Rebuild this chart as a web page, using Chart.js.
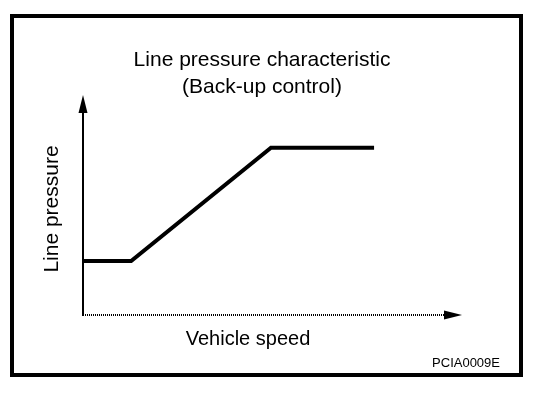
<!DOCTYPE html>
<html>
<head>
<meta charset="utf-8">
<script src="https://cdn.jsdelivr.net/npm/chart.js@4/dist/chart.umd.min.js"></script>
<style>
html,body{margin:0;padding:0;background:#fff;}
#wrap{position:relative;width:560px;height:398px;}
</style>
</head>
<body>
<div id="wrap"><canvas id="c" width="560" height="398"></canvas></div>
<script>
// Schematic data (arbitrary units)
const speed = [0, 12.7, 49.6, 76.8];
const pressure = [24.5, 24.5, 76, 76];
const titleLines = ["Line pressure characteristic", "(Back-up control)"];
const xLabel = "Vehicle speed";
const yLabel = "Line pressure";
const figCode = "PCIA0009E";

const FONT = '"Liberation Sans", Arial, Helvetica, sans-serif';

const decor = {
  id: 'decor',
  beforeDatasetsDraw(chart) {
    const ctx = chart.ctx;
    const xs = chart.scales.x, ys = chart.scales.y;
    const x0 = xs.getPixelForValue(0), y0 = ys.getPixelForValue(0);
    const xTip = xs.getPixelForValue(100), yTip = ys.getPixelForValue(100);
    ctx.save();
    // frame
    ctx.strokeStyle = '#000';
    ctx.lineWidth = 4;
    ctx.strokeRect(12, 16, 509, 359);
    // y axis
    ctx.lineWidth = 2;
    ctx.beginPath();
    ctx.moveTo(x0, y0 + 1);
    ctx.lineTo(x0, yTip + 10);
    ctx.stroke();
    ctx.beginPath();
    ctx.moveTo(x0, yTip);
    ctx.lineTo(x0 - 4.5, yTip + 18);
    ctx.lineTo(x0 + 4.5, yTip + 18);
    ctx.closePath();
    ctx.fillStyle = '#000';
    ctx.fill();
    // x axis (dotted)
    ctx.lineWidth = 2;
    ctx.setLineDash([1, 1]);
    ctx.beginPath();
    ctx.moveTo(x0, y0);
    ctx.lineTo(xTip - 10, y0);
    ctx.stroke();
    ctx.setLineDash([]);
    ctx.beginPath();
    ctx.moveTo(xTip, y0);
    ctx.lineTo(xTip - 18, y0 - 4.5);
    ctx.lineTo(xTip - 18, y0 + 4.5);
    ctx.closePath();
    ctx.fill();
    // texts
    ctx.fillStyle = '#000';
    ctx.textAlign = 'center';
    ctx.textBaseline = 'alphabetic';
    ctx.font = '21px ' + FONT;
    ctx.fillText(titleLines[0], 262, 66);
    ctx.fillText(titleLines[1], 262, 93);
    ctx.font = '20px ' + FONT;
    ctx.fillText(xLabel, 248, 345);
    ctx.save();
    ctx.translate(58, 209);
    ctx.rotate(-Math.PI / 2);
    ctx.font = '21px ' + FONT;
    ctx.fillText(yLabel, 0, 0);
    ctx.restore();
    ctx.font = '13px ' + FONT;
    ctx.textAlign = 'right';
    ctx.fillText(figCode, 500, 367);
    ctx.restore();
  }
};

new Chart(document.getElementById('c'), {
  type: 'line',
  data: {
    datasets: [{
      data: speed.map((s, i) => ({x: s, y: pressure[i]})),
      borderColor: '#000',
      borderWidth: 4,
      pointRadius: 0,
      tension: 0,
      fill: false,
      borderJoinStyle: 'miter'
    }]
  },
  options: {
    responsive: false,
    animation: false,
    events: [],
    layout: {padding: {left: 83, right: 98, top: 95, bottom: 83}},
    plugins: {legend: {display: false}, tooltip: {enabled: false}, title: {display: false}},
    scales: {
      x: {type: 'linear', min: 0, max: 100, display: false},
      y: {type: 'linear', min: 0, max: 100, display: false}
    }
  },
  plugins: [decor]
});
</script>
</body>
</html>
